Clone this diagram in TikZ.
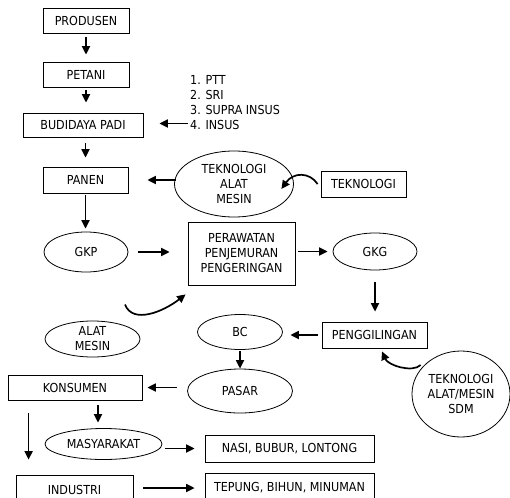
\documentclass[tikz,border=0pt]{standalone}
\usepackage{fontspec}
\setmainfont{DejaVu Sans Condensed}
\usetikzlibrary{arrows.meta,shapes.geometric}

\tikzset{
  lbl/.style={font=\fontsize{12.4}{15}\selectfont, align=center},
  box/.style={lbl, draw, line width=0.8pt, rectangle, inner sep=0pt},
  oval/.style={lbl, draw, line width=0.8pt, ellipse, inner sep=-20pt},
  arr/.style={line width=1.7pt, -{Triangle[length=8.5pt,width=8pt]}},
}

\begin{document}
\begin{tikzpicture}[x=1pt, y=-1pt]
\useasboundingbox (0,0) rectangle (510,497);
\clip (0,0) rectangle (510,497);

% left column: production chain
\node[box, minimum width=86pt, minimum height=25pt] (prod) at (86,21) {PRODUSEN};
\node[box, minimum width=86pt, minimum height=25pt] (petani) at (86,75) {PETANI};
\node[box, minimum width=120pt, minimum height=24pt] (bud) at (83,125) {BUDIDAYA PADI};
\node[box, minimum width=85pt, minimum height=26pt] (panen) at (85.5,180) {PANEN};

% cultivation methods
\node[lbl, align=left, anchor=west, inner sep=0pt] (list) at (190,102.5)
  {1. PTT\\2. SRI\\3. SUPRA INSUS\\4. INSUS};

% harvest technology
\node[oval, minimum width=119pt, minimum height=66pt] (tam) at (234,184) {TEKNOLOGI\\ALAT\\MESIN};
\node[box, minimum width=85pt, minimum height=26pt] (tek) at (363.5,184) {TEKNOLOGI};

% post-harvest
\node[oval, minimum width=84pt, minimum height=40pt] (gkp) at (86,252) {GKP};
\node[box, minimum width=107pt, minimum height=63pt] (per) at (241.5,253.5) {PERAWATAN\\PENJEMURAN\\PENGERINGAN};
\node[oval, minimum width=84pt, minimum height=37pt] (gkg) at (375,251.5) {GKG};
\node[oval, minimum width=95pt, minimum height=36pt] (alat) at (92.5,339) {ALAT\\MESIN};

% milling and market
\node[box, minimum width=105pt, minimum height=26pt] (pen) at (374.5,335) {PENGGILINGAN};
\node[oval, minimum width=85pt, minimum height=35pt] (bc) at (240,332) {BC};
\node[oval, minimum width=105pt, minimum height=44pt] (pasar) at (240,391) {PASAR};
\node[oval, minimum width=98pt, minimum height=86pt] (sdm) at (461,394) {TEKNOLOGI\\ALAT/MESIN\\SDM};

% consumers and products
\node[box, minimum width=134pt, minimum height=25pt] (kons) at (75,387.5) {KONSUMEN};
\node[oval, minimum width=117pt, minimum height=31pt] (masy) at (103.5,444) {MASYARAKAT};
\node[box, minimum width=117pt, minimum height=30pt] (ind) at (74.5,490) {INDUSTRI};
\node[box, minimum width=169pt, minimum height=27pt] (nasi) at (289.5,448.5) {NASI, BUBUR, LONTONG};
\node[box, minimum width=169pt, minimum height=30pt] (tep) at (289.5,488) {TEPUNG, BIHUN, MINUMAN};

% vertical connectors
\draw[arr] ([yshift=-3.5pt]prod.south) -- ([yshift=7.5pt]petani.north);
\draw[arr] ([yshift=-2.5pt]petani.south) -- ([yshift=10pt]bud.north -| petani.south);
\draw[arr] ([yshift=-6pt]bud.south -| panen.north) -- ([yshift=9pt]panen.north);
\draw[arr] ([yshift=-2pt]panen.south) -- ([yshift=3pt]gkp.north -| panen.south);
\draw[arr] ([yshift=-12pt]gkg.south) -- ([yshift=10pt]pen.north -| gkg.south);
\draw[arr] ([yshift=-1.5pt]bc.south) -- (pasar.north);
\draw[arr] ([xshift=23pt,yshift=-5pt]kons.south) -- ([xshift=-5.5pt,yshift=5.5pt]masy.north);
\draw[arr] ([xshift=21pt,yshift=-13pt]kons.south west) -- ([xshift=13pt,yshift=15pt]ind.north west);

% horizontal connectors
\coordinate (budin) at ([xshift=16pt,yshift=1.5pt]bud.east);
\draw[arr] ([xshift=-2pt]list.west |- budin) -- (budin);
\draw[arr] ([xshift=1.5pt]tam.west |- panen.east) -- ([xshift=19pt]panen.east);
\draw[arr] ([xshift=10pt]gkp.east) -- ([xshift=-18pt]per.west |- gkp.east);
\draw[arr] ([xshift=3pt]per.east |- gkg.west) -- ([xshift=-5pt]gkg.west);
\draw[arr] ([xshift=-4pt]pen.west) -- ([xshift=7.5pt]bc.east |- pen.west);
\draw[arr] ([xshift=-10pt]pasar.west |- kons.east) -- ([xshift=5pt]kons.east);
\draw[arr] ([xshift=3pt]masy.east |- nasi.west) -- ([xshift=-10pt]nasi.west);
\draw[arr] ([xshift=10pt]ind.east |- tep.west) -- ([xshift=-10pt]tep.west);

% curved connectors
\draw[arr] ([xshift=-3pt]tek.west) .. controls +(-8,-12) and +(12,-17) .. ([shift={(-12.5,5)}]tam.east);
\draw[arr] ([shift={(32.5,-16)}]alat.north) .. controls +(8,20) and +(-22,17) .. ([shift={(-2,9)}]per.south west);
\draw[arr] ([shift={(9,-29)}]sdm.west) .. controls +(-8,8) and +(6,14) .. ([shift={(7.5,3)}]pen.south);
\end{tikzpicture}
\end{document}
